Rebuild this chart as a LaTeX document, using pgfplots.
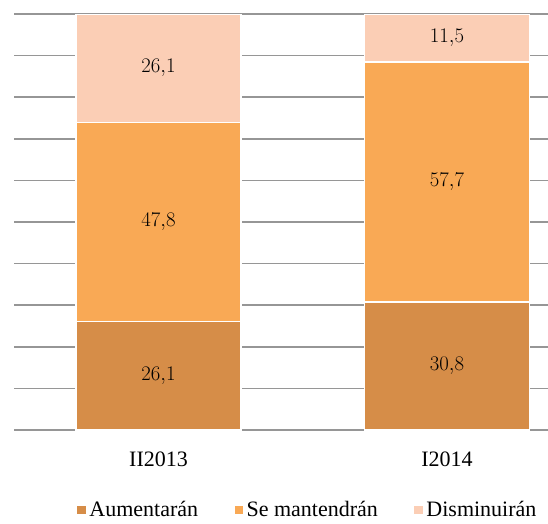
\documentclass[border=0pt]{standalone}
\usepackage{fontspec}
\setmainfont{Liberation Serif}
\usepackage{pgfplots}
\usepackage{pgfplotstable}
\pgfplotsset{compat=1.18}
\definecolor{cA}{HTML}{D68D48}
\definecolor{cB}{HTML}{F9A955}
\definecolor{cC}{HTML}{FBCEB5}
\definecolor{gridc}{HTML}{969696}
\pgfplotstableread{
x a b c
0 26.1 47.8 26.1
1 30.8 57.7 11.5
}\data
\begin{document}
\begin{tikzpicture}
\useasboundingbox (-14pt,-93pt) rectangle (534pt,430pt);
\begin{axis}[
  at={(0,0)}, anchor=south west,
  scale only axis, width=534pt, height=416pt,
  ybar stacked, bar width=165pt,
  xmin=-0.501, xmax=1.35, ymin=0, ymax=100,
  xtick={0,1}, xticklabels={II2013,I2014},
  ytick={0,10,...,100}, yticklabels={},
  ymajorgrids, grid style={gridc, line width=1.6pt},
  axis x line*=bottom, axis y line*=left,
  y axis line style={draw=none},
  x axis line style={gridc, line width=1.6pt, -},
  xtick style={draw=none}, ytick style={draw=none},
  xticklabel style={font=\fontsize{22}{26}\selectfont, yshift=-18.5pt},
  legend style={draw=none, at={(axis description cs:0.549,-0.192)}, anchor=center,
    legend columns=3, font=\fontsize{22}{26}\selectfont, inner ysep=1pt,
    /tikz/every even column/.append style={column sep=33pt}},
  legend image code/.code={\fill[#1] (0pt,-4.5pt) rectangle (10pt,4.5pt);},
  point meta=explicit,
  nodes near coords={\pgfmathprintnumber[use comma,fixed,precision=1,fixed zerofill]{\pgfplotspointmeta}},
  every node near coord/.append style={anchor=center, font=\fontsize{22}{26}\selectfont, black},
]
\addplot[fill=cA, draw=white, line width=1.5pt] table[x=x,y=a,meta=a] \data;
\addplot[fill=cB, draw=white, line width=1.5pt] table[x=x,y=b,meta=b] \data;
\addplot[fill=cC, draw=white, line width=1.5pt] table[x=x,y=c,meta=c] \data;
\legend{Aumentarán, Se mantendrán, Disminuirán}
\end{axis}
\end{tikzpicture}
\end{document}
